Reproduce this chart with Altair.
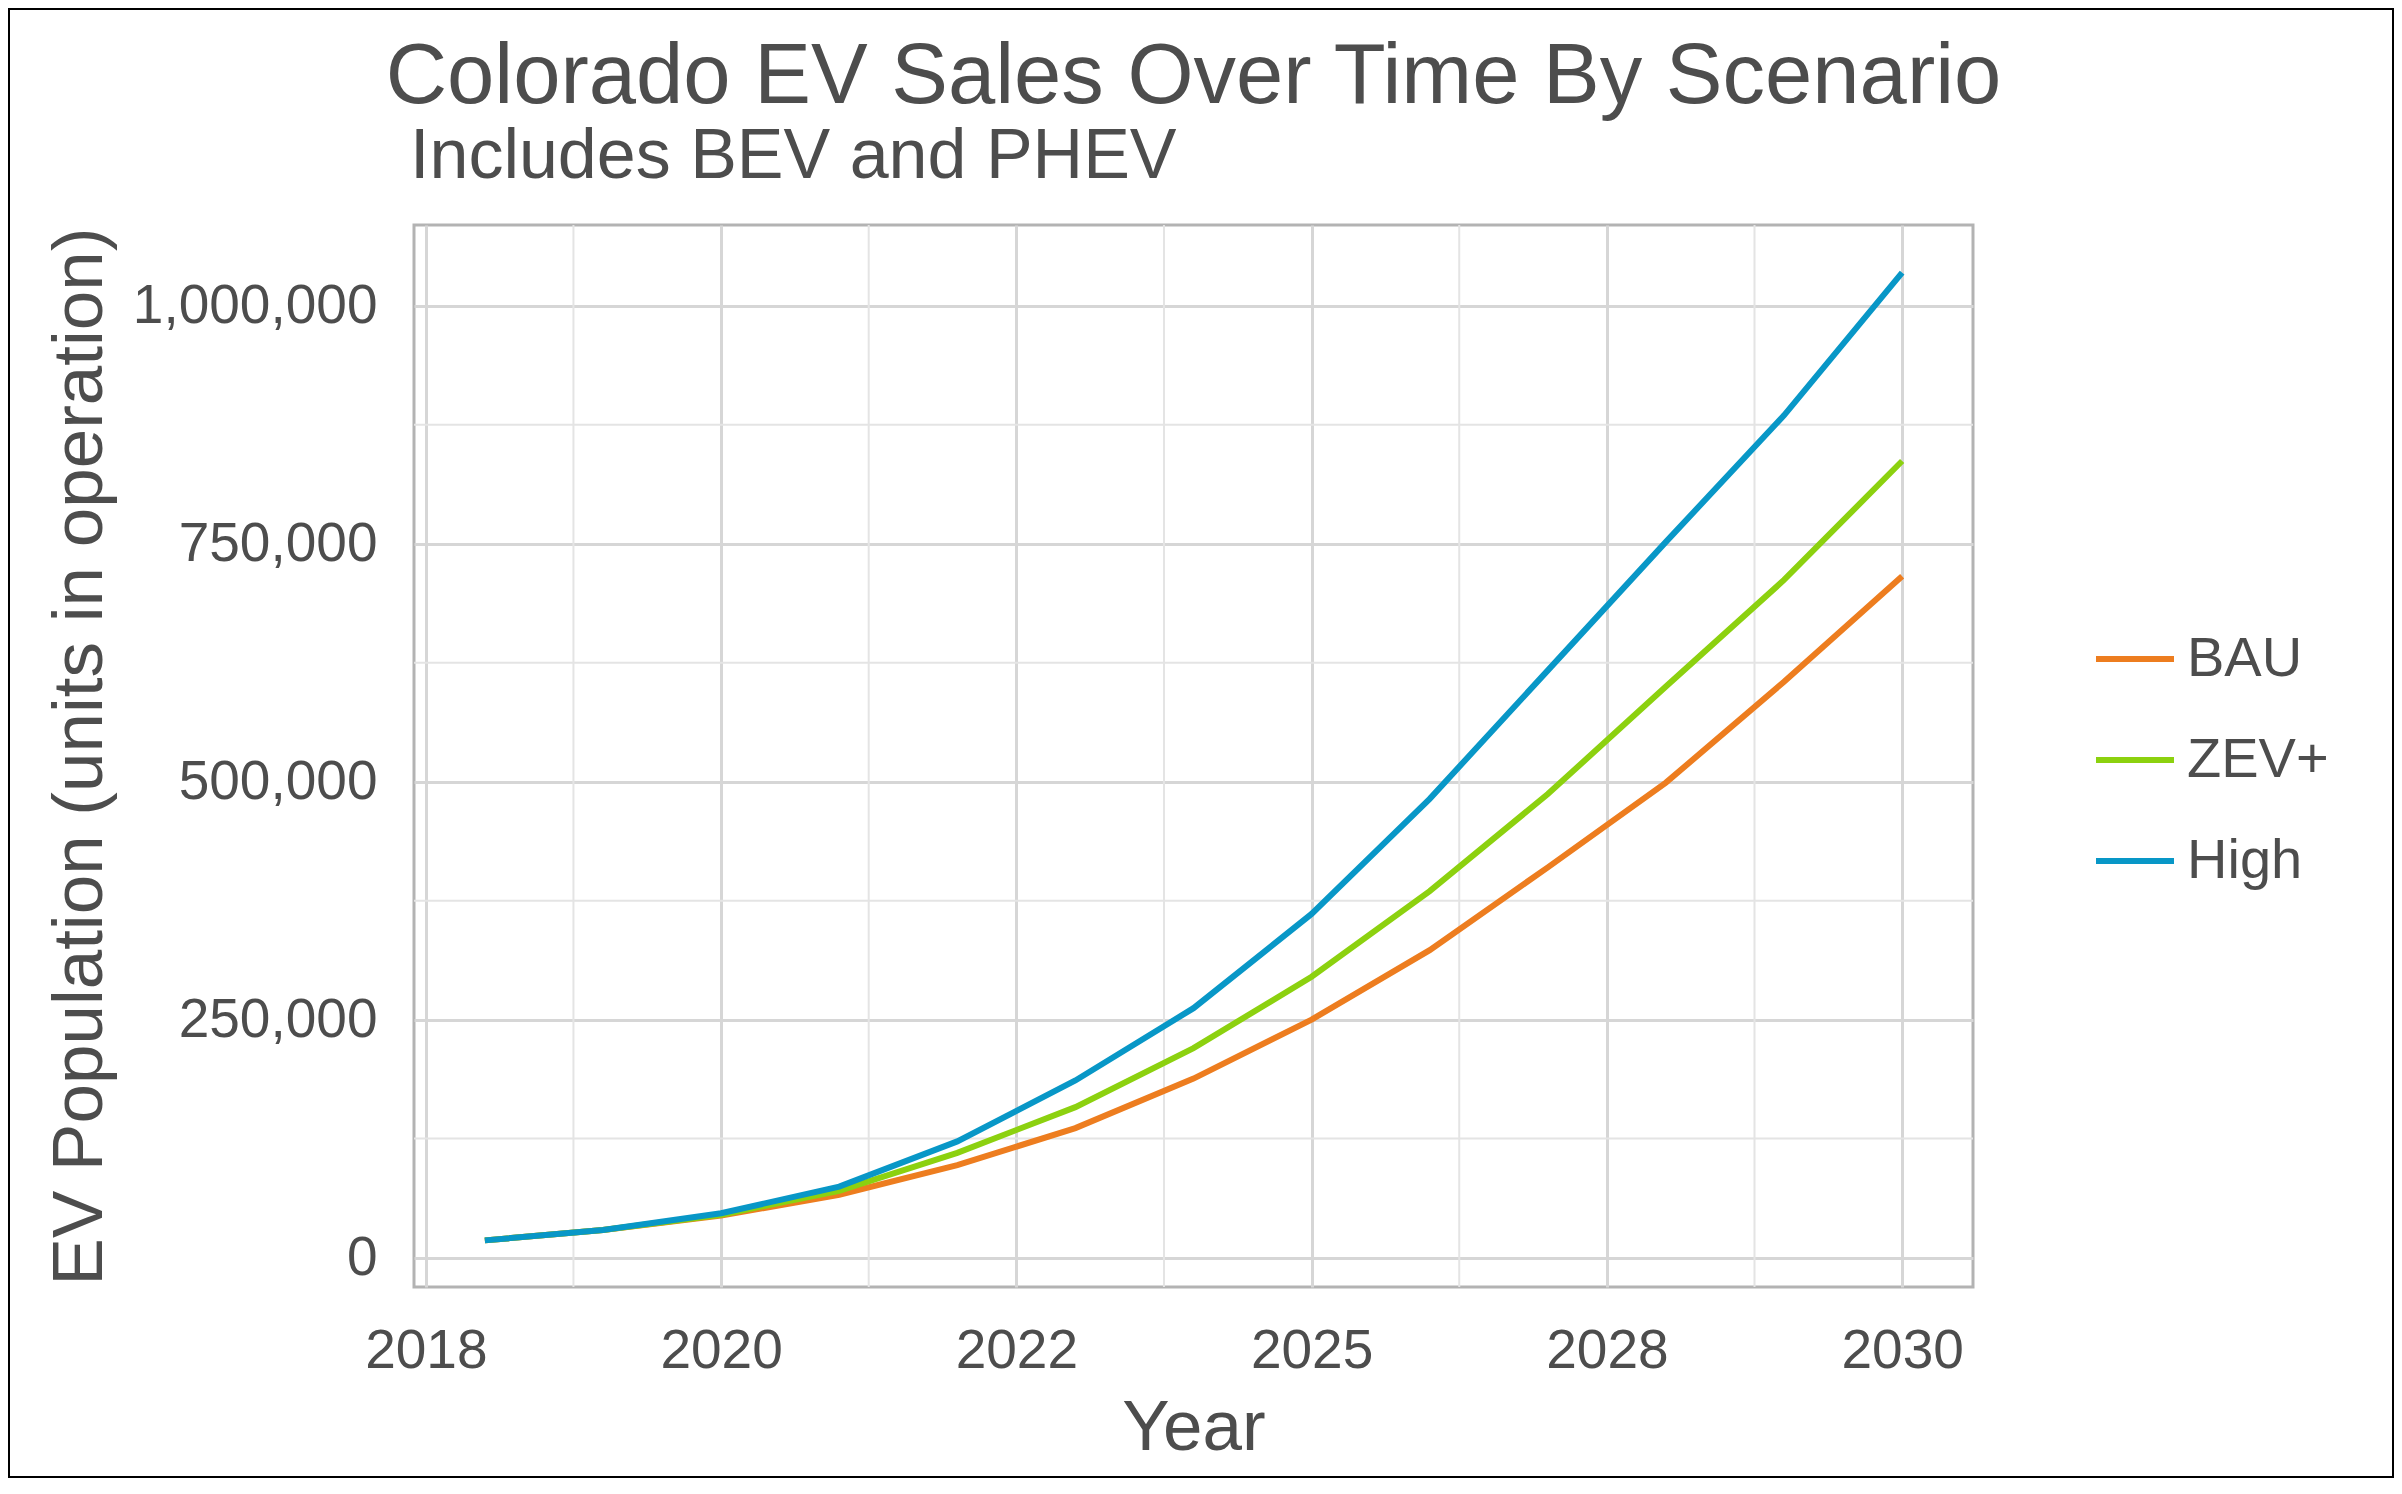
import altair as alt
import pandas as pd

# ---- data ----
years = list(range(2018, 2031))
bau = [18000, 29000, 44000, 66000, 97000, 136000, 188000, 250000, 323000, 410000, 499000, 605000, 716000]
zev = [18000, 29000, 45000, 70000, 110000, 158000, 220000, 295000, 385000, 487000, 600000, 712000, 837000]
high = [18000, 29000, 46500, 74500, 122000, 186000, 262000, 361000, 482000, 617000, 752000, 885000, 1035000]
scenarios = ["BAU", "ZEV+", "High"]
colors = ["#ED7D1F", "#8CD10F", "#0897C7"]

x_ticks = [2017.5, 2020, 2022.5, 2025, 2027.5, 2030]
x_tick_labels = ["2018", "2020", "2022", "2025", "2028", "2030"]
x_minor = [2018.75, 2021.25, 2023.75, 2026.25, 2028.75]
y_ticks = [0, 250000, 500000, 750000, 1000000]
y_minor = [125000, 375000, 625000, 875000]

title_text = "Colorado EV Sales Over Time By Scenario"
subtitle_text = "Includes BEV and PHEV"
x_title = "Year"
y_title = "EV Population (units in operation)"

# ---- tables ----
rows = []
for name, series in zip(scenarios, [bau, zev, high]):
    for yr, v in zip(years, series):
        rows.append({"Year": yr, "Value": v, "Scenario": name})
df = pd.DataFrame(rows)
xminor_df = pd.DataFrame({"Year": x_minor})
yminor_df = pd.DataFrame({"Value": y_minor})

FONT = "Liberation Sans"
TXT = "#4d4d4d"
W, H = 1559, 1062
x_dom = [2017.4, 2030.6]
y_dom = [-31000, 1085000]

label_expr = "".join(
    f"datum.value == {v} ? '{l}' : " for v, l in zip(x_ticks, x_tick_labels)
) + "''"

xscale = alt.Scale(domain=x_dom, nice=False, zero=False)
yscale = alt.Scale(domain=y_dom, nice=False, zero=False)

x_axis = alt.Axis(
    values=x_ticks,
    labelExpr=label_expr,
    title=x_title,
    ticks=False,
    tickSize=0,
    domain=False,
    grid=True,
    gridColor="#d6d6d6",
    gridWidth=3,
    labelFont=FONT,
    labelFontSize=55,
    labelColor=TXT,
    labelPadding=37,
    labelFlush=False,
    labelLimit=0,
    titleFont=FONT,
    titleFontSize=71,
    titleFontWeight="normal",
    titleColor=TXT,
    titleBaseline="alphabetic",
    titleY=162,
)
y_axis = alt.Axis(
    values=y_ticks,
    format=",d",
    title=y_title,
    ticks=False,
    tickSize=0,
    domain=False,
    grid=True,
    gridColor="#d6d6d6",
    gridWidth=3,
    labelFont=FONT,
    labelFontSize=55,
    labelColor=TXT,
    labelPadding=37,
    labelFlush=False,
    labelLimit=0,
    titleFont=FONT,
    titleFontSize=71,
    titleFontWeight="normal",
    titleColor=TXT,
    titleBaseline="alphabetic",
    titleX=-313,
    titleLimit=0,
)

minor_x = alt.Chart(xminor_df).mark_rule(color="#e4e4e4", strokeWidth=2).encode(
    x=alt.X("Year:Q", scale=xscale, axis=x_axis)
)
minor_y = alt.Chart(yminor_df).mark_rule(color="#e4e4e4", strokeWidth=2).encode(
    y=alt.Y("Value:Q", scale=yscale, axis=y_axis)
)

lines = alt.Chart(df).mark_line(strokeWidth=6).encode(
    x=alt.X("Year:Q", scale=xscale, axis=x_axis),
    y=alt.Y("Value:Q", scale=yscale, axis=y_axis),
    color=alt.Color(
        "Scenario:N",
        scale=alt.Scale(domain=scenarios, range=colors),
        sort=scenarios,
        legend=alt.Legend(
            title=None,
            orient="none",
            legendX=1679,
            legendY=392,
            symbolType="stroke",
            symbolSize=6084,
            symbolStrokeWidth=6,
            labelFont=FONT,
            labelFontSize=56,
            labelColor=TXT,
            labelOffset=10,
            rowPadding=31,
            padding=0,
        ),
    ),
    order=alt.Order("Year:Q"),
)

subtitle = alt.Chart(alt.Data(values=[{"t": subtitle_text}])).mark_text(
    align="left", baseline="alphabetic", font=FONT, fontSize=70, color=TXT
).encode(x=alt.value(-4), y=alt.value(-47), text="t:N")

frame = alt.Chart(alt.Data(values=[{"a": 1}])).mark_rect(
    fillOpacity=0, stroke="black", strokeWidth=2
).encode(x=alt.value(-405), x2=alt.value(1979), y=alt.value(-216), y2=alt.value(1252))

chart = alt.layer(minor_x, minor_y, lines, subtitle, frame).properties(
    width=W,
    height=H,
    padding={"left": 406, "top": 217, "right": 421, "bottom": 192},
    autosize=alt.AutoSizeParams(type="none"),
    background="white",
    title=alt.TitleParams(
        text=title_text,
        anchor="middle",
        frame="group",
        font=FONT,
        fontSize=85,
        fontWeight="normal",
        color=TXT,
        baseline="alphabetic",
        offset=-180,
    ),
).configure_view(stroke="#b3b3b3", strokeWidth=3)

chart.save("out.html", embed_options={"renderer": "svg", "actions": False})
